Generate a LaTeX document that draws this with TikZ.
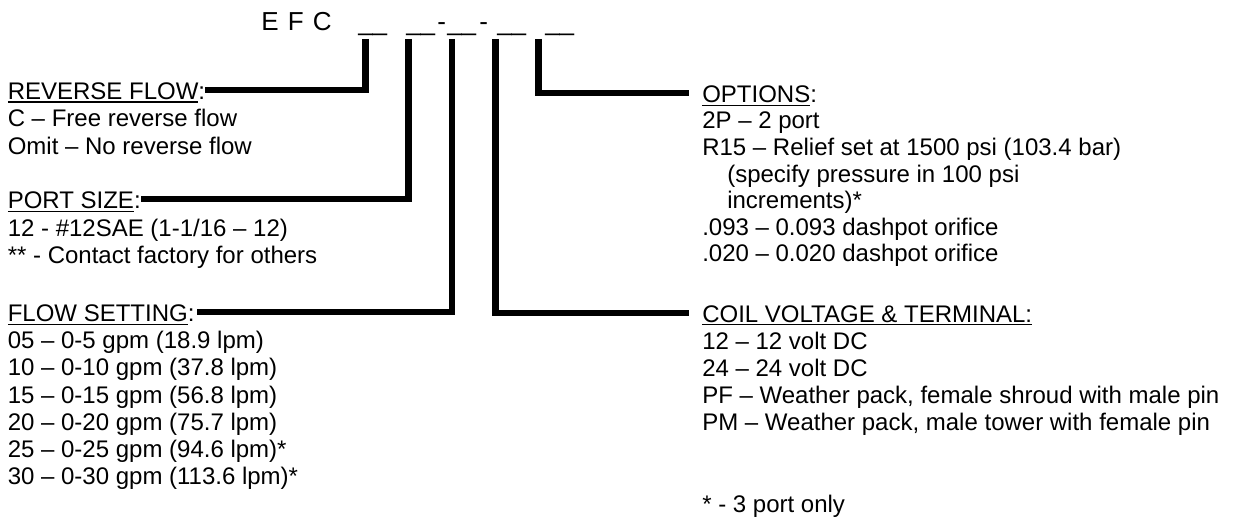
\documentclass[tikz,border=0pt]{standalone}
\usepackage{fontspec}
\setmainfont{Liberation Sans}
\newcommand\hd[1]{\setbox0\hbox{#1}\rlap{\rule[-2.4pt]{\wd0}{0.9pt}}\box0}
\begin{document}
\begin{tikzpicture}[x=0.75pt,y=-0.75pt,
  txt/.style={anchor=base west,inner sep=0pt,font=\fontsize{18}{20}\selectfont},
  code/.style={txt,font=\fontsize{19.5}{22}\selectfont},
  lead/.style={line width=4.6pt}]
\useasboundingbox (0,0) rectangle (1233,517);

% model code
\node[code] (efc) at (261,31) {E\hspace{1.5pt} F\hspace{1.5pt} C};
\node[code] (u1) at (358,31) {\_\_};
\node[code] (u2) at (406,31) {\_\_};
\node[code] (d1) at (437,31) {-};
\node[code] (u3) at (447,31) {\_\_};
\node[code] (d2) at (479,31) {-};
\node[code] (u4) at (497,31) {\_\_};
\node[code] (u5) at (545,31) {\_\_};
\coordinate (t1) at (365.5,39);
\coordinate (t2) at (408.5,39);
\coordinate (t3) at (452,39);
\coordinate (t4) at (495.5,39);
\coordinate (t5) at (538.5,39);

% left column
\node[txt] (rf) at (7.5,99.5) {\hd{REVERSE FLOW}:};
\foreach \s [count=\i] in {C – Free reverse flow, Omit – No reverse flow}
  \node[txt] (rf\i) at (7.5,99.5+27.5*\i) {\s};

\node[txt] (ps) at (7.5,208.5) {\hd{PORT SIZE}:};
\foreach \s [count=\i] in {12 - \#12SAE (1-1/16 – 12), ** - Contact factory for others}
  \node[txt] (ps\i) at (7.5,208.5+27.5*\i) {\s};

\node[txt] (fs) at (7.5,321.5) {\hd{FLOW SETTING}:};
\foreach \s [count=\i] in {05 – 0-5 gpm (18.9 lpm), 10 – 0-10 gpm (37.8 lpm),
    15 – 0-15 gpm (56.8 lpm), 20 – 0-20 gpm (75.7 lpm),
    25 – 0-25 gpm (94.6 lpm)*, 30 – 0-30 gpm (113.6 lpm)*}
  \node[txt] (fs\i) at (7.5,321.5+27.2*\i) {\s};

% right column
\node[txt] (op) at (702,102.5) {\hd{OPTIONS}:};
\foreach \dx/\s [count=\i] in {0/2P – 2 port, 0/R15 – Relief set at 1500 psi (103.4 bar),
    25/(specify pressure in 100 psi, 25/increments)*,
    0/.093 – 0.093 dashpot orifice, 0/.020 – 0.020 dashpot orifice}
  \node[txt] (op\i) at (702+\dx,102.5+26.5*\i) {\s};

\node[txt] (cv) at (702,322) {\hd{COIL VOLTAGE \& TERMINAL:}};
\foreach \s [count=\i] in {12 – 12 volt DC, 24 – 24 volt DC,
    {PF – Weather pack, female shroud with male pin},
    {PM – Weather pack, male tower with female pin}}
  \node[txt] (cv\i) at (702,322+27.2*\i) {\s};

\node[txt] (note) at (702,512) {* - 3 port only};

% leaders
\draw[lead] (t1) |- ([yshift=7pt]rf.base east);
\draw[lead] (t2) |- ([yshift=7pt]ps.base east);
\draw[lead] (t3) |- ([xshift=2pt,yshift=7pt]fs.base east);
\draw[lead] (t4) |- ([xshift=-10pt,yshift=7pt]cv.base west);
\draw[lead] (t5) |- ([xshift=-10pt,yshift=7pt]op.base west);
\end{tikzpicture}
\end{document}
